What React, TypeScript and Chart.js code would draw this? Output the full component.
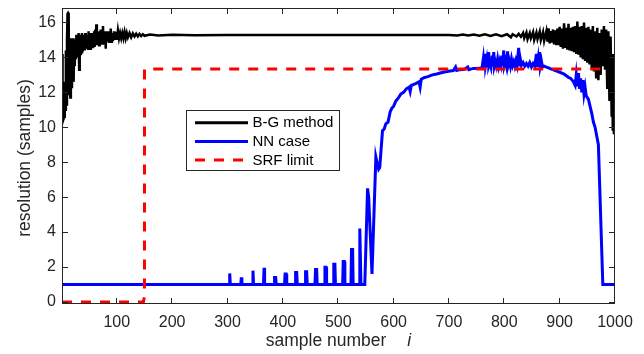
import React, { useEffect, useRef } from "react";
import { Chart, registerables } from "chart.js";

Chart.register(...registerables);

// ---------- data ----------
const xTicks = [100, 200, 300, 400, 500, 600, 700, 800, 900, 1000];
const yTicks = [0, 2, 4, 6, 8, 10, 12, 14, 16];
const xRange = [1, 1000];
const yRange = [-0.12, 16.83];
const seriesNames = ["B-G method", "NN case", "SRF limit"];
const xTitle = "sample number";
const xTitleItalic = "i";
const yTitle = "resolution (samples)";

const bgMethod: number[][] = [
  [1, 14.2], [2, 12.4], [3, 10.9], [4, 10.5], [5, 10.6], [6, 12.6], [7, 11.0], [8, 14.4], [9, 11.3], [10, 15.0],
  [11, 16.5], [12, 16.55], [13, 16.5], [14, 11.9], [15, 15.1], [16, 11.7], [17, 15.1], [18, 12.3], [19, 15.0], [20, 12.8],
  [21, 15.1], [22, 12.6], [23, 14.8], [24, 13.5], [25, 15.0], [26, 13.9], [27, 15.3], [28, 14.0], [29, 15.2], [30, 14.1],
  [31, 15.4], [32, 13.3], [33, 15.3], [34, 14.2], [35, 15.3], [36, 14.3], [37, 15.4], [38, 14.3], [39, 15.3], [40, 14.4],
  [41, 15.2], [42, 14.4], [43, 15.4], [44, 14.5], [45, 15.3], [46, 14.5], [47, 15.3], [48, 14.5], [49, 15.5], [50, 14.6],
  [51, 15.3], [52, 14.5], [53, 15.4], [54, 14.6], [55, 15.3], [56, 14.6], [57, 15.4], [58, 14.7], [59, 15.5], [60, 14.6],
  [61, 15.6], [62, 14.7], [63, 15.9], [64, 14.7], [65, 15.4], [66, 14.8], [67, 15.5], [68, 14.7], [69, 15.4], [70, 14.8],
  [71, 15.6], [72, 14.8], [73, 15.5], [74, 14.8], [75, 15.8], [76, 14.8], [77, 15.4], [78, 14.9], [79, 15.5], [80, 14.5],
  [81, 15.4], [82, 14.9], [83, 15.5], [84, 14.9], [85, 15.4], [86, 14.9], [87, 15.5], [88, 15.0], [89, 15.65], [90, 14.9],
  [91, 15.4], [92, 15.0], [93, 15.4], [94, 15.0], [95, 15.5], [96, 15.0], [97, 15.4], [98, 15.0], [99, 15.45], [100, 15.0],
  [102, 15.55], [104, 15.1], [106, 15.4], [108, 15.1], [110, 15.4], [112, 15.1], [114, 15.45], [116, 15.1], [118, 15.4], [120, 15.15],
  [123, 15.4], [126, 15.15], [129, 15.38], [132, 15.2], [135, 15.36], [138, 15.2], [141, 15.35], [144, 15.22], [147, 15.33], [150, 15.24],
  [160, 15.31], [175, 15.26], [200, 15.3], [240, 15.27], [300, 15.29], [400, 15.28], [500, 15.28], [600, 15.28], [700, 15.28],
  [715, 15.26], [725, 15.31], [735, 15.25], [745, 15.31], [755, 15.24], [765, 15.32], [775, 15.23], [785, 15.32], [795, 15.22],
  [805, 15.33], [812, 15.15], [815, 15.33], [822, 15.2], [826, 15.35], [830, 15.18], [834, 15.4], [836, 15.1], [840, 15.42],
  [842, 15.05], [846, 15.4], [848, 15.1], [852, 15.45], [854, 15.0], [858, 15.42], [860, 15.05], [864, 15.48], [866, 15.0],
  [870, 15.45], [872, 14.95], [876, 15.5], [878, 14.9], [880, 15.67], [882, 14.8], [884, 15.5], [886, 14.85], [888, 15.6],
  [890, 14.75], [892, 15.55], [894, 14.7], [896, 15.65], [898, 14.7], [900, 15.75], [902, 14.6], [904, 15.65], [906, 14.5],
  [908, 15.95], [910, 14.55], [912, 15.7], [914, 14.45], [916, 15.92], [918, 14.4], [920, 15.7], [922, 14.35], [924, 15.75],
  [926, 14.3], [928, 15.8], [930, 14.2], [932, 16.05], [934, 14.15], [936, 15.75], [938, 14.0], [940, 15.8], [942, 13.9],
  [944, 16.0], [946, 13.8], [948, 15.7], [950, 13.7], [952, 15.75], [954, 13.6], [956, 15.6], [958, 13.4], [960, 15.8],
  [962, 13.2], [964, 15.5], [966, 12.8], [968, 15.7], [970, 12.7], [972, 15.4], [974, 13.0], [976, 15.6], [978, 13.5],
  [980, 15.8], [982, 13.3], [984, 15.6], [986, 12.2], [988, 15.5], [990, 11.5], [992, 15.2], [994, 10.6], [995, 14.2],
  [996, 9.8], [997, 12.5], [998, 9.6], [999, 11.0], [1000, 9.7],
];

const nnCase: number[][] = [
  [1, 1], [303, 1], [304, 1.63], [305, 1], [324, 1], [325, 1.4], [326, 1], [345, 1], [346, 1.79], [347, 1],
  [365, 1], [366, 1.96], [367, 1], [384, 1], [385, 1.4], [387, 1.4], [388, 1], [403, 1], [404, 1.6], [406, 1.6],
  [407, 1], [422, 1], [423, 1.68], [425, 1.68], [426, 1], [440, 1], [441, 1.73], [443, 1.73], [444, 1], [458, 1],
  [459, 1.86], [461, 1.86], [462, 1], [475, 1], [476, 1.98], [478, 1.98], [479, 1], [491, 1], [492, 2.16], [494, 2.16],
  [495, 1], [508, 1], [509, 2.32], [511, 2.32], [512, 1], [523, 1], [524, 3.0], [526, 3.0], [527, 1], [538, 1],
  [539, 4.2], [541, 1], [548, 1], [553, 6.5], [555, 6.0], [561, 1.6], [568, 8.3], [570, 8.0], [573, 7.6], [575, 7.7],
  [580, 9.8], [583, 9.9], [586, 10.2], [590, 10.3], [594, 10.9], [597, 11.1], [600, 11.2], [604, 11.5], [608, 11.65], [613, 11.9],
  [618, 12.0], [623, 12.2], [628, 12.3], [630, 12.05], [632, 12.4], [640, 12.5], [646, 12.6], [648, 12.3], [650, 12.75], [656, 12.85],
  [662, 12.9], [670, 13.0], [678, 13.05], [686, 13.12], [694, 13.18], [702, 13.22], [708, 13.25], [712, 13.45], [714, 13.25], [720, 13.3],
  [728, 13.32], [734, 13.45], [736, 13.3], [744, 13.37], [752, 13.38], [758, 13.4], [760, 13.45], [762, 13.9], [763, 13.4], [765, 14.2],
  [766, 13.5], [768, 13.85], [769, 13.45], [771, 14.3], [772, 13.5], [774, 13.7], [776, 13.45], [778, 14.1], [779, 13.5], [781, 14.3],
  [782, 13.5], [784, 13.75], [786, 13.5], [788, 13.9], [790, 13.5], [792, 13.8], [794, 13.55], [796, 14.1], [797, 13.5], [799, 14.4],
  [800, 13.55], [802, 13.8], [804, 13.5], [806, 14.35], [807, 13.55], [809, 13.8], [811, 13.5], [813, 13.9], [815, 13.55], [817, 13.75],
  [819, 13.5], [821, 13.8], [823, 13.55], [826, 14.55], [827, 13.5], [829, 13.9], [831, 13.55], [834, 13.7], [837, 13.5], [840, 13.65],
  [843, 13.5], [846, 13.7], [849, 13.45], [852, 13.65], [855, 13.5], [858, 14.2], [859, 13.45], [861, 13.9], [862, 13.45], [864, 14.3],
  [865, 13.5], [867, 13.8], [869, 13.45], [872, 13.5], [876, 13.45], [880, 13.4], [884, 13.35], [888, 13.3], [892, 13.25], [896, 13.2],
  [900, 13.15], [904, 13.1], [908, 13.05], [912, 12.95], [916, 12.85], [920, 12.8], [925, 12.6], [928, 12.4], [930, 13.0], [932, 12.35],
  [934, 13.1], [936, 12.2], [938, 12.8], [940, 12.0], [942, 12.7], [944, 11.9], [946, 12.3], [948, 11.8], [950, 11.7], [952, 11.6],
  [955, 11.2], [958, 10.8], [961, 10.3], [964, 10.0], [967, 9.5], [970, 9.0], [978, 1.0], [1000, 1.0],
];

const srfLimit: number[][] = [
  [1, 0], [148, 0], [150, 0.3], [150, 13.33], [985, 13.33],
];

const seriesColors = ["#000000", "#0000ff", "#ff0000"];
const seriesWidths = [2.5, 3, 3];

// ---------- styling ----------
const FONT = '"Liberation Sans", Arial, Helvetica, sans-serif';
const AXIS_COLOR = "#262626";

const toPts = (a: number[][]) => a.map(([x, y]) => ({ x, y }));

const framePlugin = {
  id: "frameAndLabels",
  afterDatasetsDraw(chart: any) {
    const { ctx, chartArea, scales } = chart;
    const { left, right, top, bottom } = chartArea;
    const xs = scales.x;
    const ys = scales.y;
    ctx.save();
    // box
    ctx.strokeStyle = AXIS_COLOR;
    ctx.lineWidth = 1;
    ctx.strokeRect(Math.round(left) + 0.5, Math.round(top) + 0.5, Math.round(right - left) - 1, Math.round(bottom - top) - 1);
    // inward ticks
    const tl = 6;
    ctx.beginPath();
    xTicks.forEach((v) => {
      const px = Math.round(xs.getPixelForValue(v)) - 0.5;
      ctx.moveTo(px, bottom);
      ctx.lineTo(px, bottom - tl);
      ctx.moveTo(px, top);
      ctx.lineTo(px, top + tl);
    });
    yTicks.forEach((v) => {
      const py = Math.round(ys.getPixelForValue(v)) + 0.5;
      ctx.moveTo(left, py);
      ctx.lineTo(left + tl, py);
      ctx.moveTo(right, py);
      ctx.lineTo(right - tl, py);
    });
    ctx.stroke();

    // legend
    const lx = 186.5, ly = 110.5, lw = 153, lh = 60;
    ctx.fillStyle = "#ffffff";
    ctx.fillRect(lx, ly, lw, lh);
    ctx.strokeStyle = AXIS_COLOR;
    ctx.lineWidth = 1;
    ctx.strokeRect(lx, ly, lw, lh);
    const rows = [122.7, 141.5, 160];
    ctx.font = `15px ${FONT}`;
    ctx.textBaseline = "middle";
    ctx.textAlign = "left";
    seriesNames.forEach((name, i) => {
      ctx.beginPath();
      ctx.strokeStyle = seriesColors[i];
      ctx.lineWidth = 3;
      ctx.setLineDash(i === 2 ? [10, 9] : []);
      ctx.moveTo(195, rows[i]);
      ctx.lineTo(248, rows[i]);
      ctx.stroke();
      ctx.setLineDash([]);
      ctx.fillStyle = "#000000";
      ctx.fillText(name, 252.5, rows[i] + 0.5);
    });

    // axis titles
    ctx.fillStyle = AXIS_COLOR;
    ctx.font = `17.5px ${FONT}`;
    const w1 = ctx.measureText(xTitle).width;
    ctx.font = `italic 17.5px ${FONT}`;
    const w2 = ctx.measureText(xTitleItalic).width;
    const gap = 21;
    const total = w1 + gap + w2;
    const cx = (left + right) / 2;
    const sx = cx - total / 2;
    ctx.textAlign = "left";
    ctx.textBaseline = "middle";
    ctx.font = `17.5px ${FONT}`;
    ctx.fillText(xTitle, sx, 341);
    ctx.font = `italic 17.5px ${FONT}`;
    ctx.fillText(xTitleItalic, sx + w1 + gap, 341);

    ctx.save();
    ctx.translate(25, (top + bottom) / 2 + 2);
    ctx.rotate(-Math.PI / 2);
    ctx.textAlign = "center";
    ctx.textBaseline = "middle";
    ctx.font = `17.5px ${FONT}`;
    ctx.fillText(yTitle, 0, 0);
    ctx.restore();

    ctx.restore();
  },
};

export default function App() {
  const canvasRef = useRef<HTMLCanvasElement | null>(null);

  useEffect(() => {
    document.body.style.margin = "0";
    const canvas = canvasRef.current;
    if (!canvas) return;
    const datasets = [bgMethod, nnCase, srfLimit].map((d, i) => ({
      label: seriesNames[i],
      data: toPts(d),
      borderColor: seriesColors[i],
      backgroundColor: seriesColors[i],
      borderWidth: seriesWidths[i],
      borderDash: i === 2 ? [10, 9] : [],
      pointRadius: 0,
      tension: 0,
      fill: false,
      order: 2 - i,
      borderJoinStyle: "miter" as const,
    }));

    const chart = new Chart(canvas, {
      type: "line",
      data: { datasets },
      options: {
        responsive: false,
        animation: false,
        devicePixelRatio: 1,
        layout: { padding: { left: 0, top: 8, right: 29, bottom: 0 } },
        plugins: { legend: { display: false }, tooltip: { enabled: false } },
        events: [],
        scales: {
          x: {
            type: "linear",
            min: xRange[0],
            max: xRange[1],
            grid: { display: false, drawTicks: false },
            border: { display: false },
            afterBuildTicks: (s: any) => {
              s.ticks = xTicks.map((v) => ({ value: v }));
            },
            afterFit: (s: any) => {
              s.height = 50;
              s.paddingLeft = 0;
              s.paddingRight = 0;
              s.paddingTop = 0;
              s.paddingBottom = 0;
            },
            ticks: {
              autoSkip: false,
              maxRotation: 0,
              padding: 9,
              color: AXIS_COLOR,
              font: { family: FONT, size: 16 },
              callback: (v: any) => String(v),
            },
          },
          y: {
            type: "linear",
            min: yRange[0],
            max: yRange[1],
            grid: { display: false, drawTicks: false },
            border: { display: false },
            afterBuildTicks: (s: any) => {
              s.ticks = yTicks.map((v) => ({ value: v }));
            },
            afterFit: (s: any) => {
              s.width = 62;
              s.paddingLeft = 0;
              s.paddingRight = 0;
              s.paddingTop = 0;
              s.paddingBottom = 0;
            },
            ticks: {
              autoSkip: false,
              padding: 6,
              color: AXIS_COLOR,
              font: { family: FONT, size: 16 },
              callback: (v: any) => String(v),
            },
          },
        },
      },
      plugins: [framePlugin],
    });
    return () => chart.destroy();
  }, []);

  return (
    <div style={{ width: 644, height: 354, background: "#fff" }}>
      <canvas ref={canvasRef} width={644} height={354} style={{ display: "block" }} />
    </div>
  );
}
